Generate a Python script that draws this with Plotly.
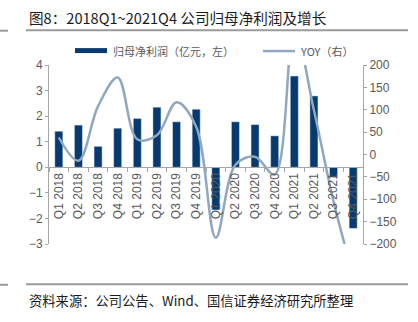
import plotly.graph_objects as go

categories = ["Q1 2018", "Q2 2018", "Q3 2018", "Q4 2018",
              "Q1 2019", "Q2 2019", "Q3 2019", "Q4 2019",
              "Q1 2020", "Q2 2020", "Q3 2020", "Q4 2020",
              "Q1 2021", "Q2 2021", "Q3 2021", "Q4 2021"]
profit = [1.41, 1.65, 0.82, 1.53, 1.91, 2.35, 1.78, 2.27,
          -1.67, 1.78, 1.67, 1.23, 3.57, 2.79, -0.40, -2.39]
yoy = [38, -14, 108, 172, 34, 43, 117, 62,
       -186, -23, -5, -45, 280, 99, -105, -270]

left_ticks = [-3, -2, -1, 0, 1, 2, 3, 4]
right_ticks = [-200, -150, -100, -50, 0, 50, 100, 150, 200]

BAR = "#073A6E"
LINE = "#8FA8C0"
AX = "#A6A6A6"
TXT = "#595959"
NUM_FONT = "Liberation Sans, Arial, sans-serif"
CJK = "Noto Sans CJK SC"

fig = go.Figure()
fig.add_trace(go.Bar(x=categories, y=profit, marker_color=BAR, width=0.41,
                     name="归母净利润（亿元，左）", yaxis="y", showlegend=False))
fig.add_trace(go.Scatter(x=categories, y=yoy, mode="lines",
                         line=dict(color=LINE, width=2.5, shape="spline"),
                         name="YOY（右）", yaxis="y2", showlegend=False))

ymin, ymax = left_ticks[0], left_ticks[-1]
fig.update_layout(
    width=418, height=322,
    margin=dict(l=49, r=55, t=64.5, b=77.5),
    paper_bgcolor="white", plot_bgcolor="white",
    showlegend=False,
    xaxis=dict(type="category", range=[-0.5, len(categories) - 0.5],
               anchor="free", position=(0 - ymin) / (ymax - ymin),
               showline=True, linecolor=AX, linewidth=1,
               ticks="outside", ticklen=4, tickcolor=AX, tickson="boundaries",
               tickangle=-90, tickfont=dict(family=NUM_FONT, size=12, color=TXT),
               showgrid=False, zeroline=False),
    yaxis=dict(range=[ymin, ymax], tickvals=left_ticks,
               showline=True, linecolor=AX, linewidth=1,
               ticks="outside", ticklen=3, tickcolor=AX,
               tickfont=dict(family=NUM_FONT, size=12, color=TXT),
               showgrid=False, zeroline=False),
    yaxis2=dict(range=[right_ticks[0], right_ticks[-1]], tickvals=right_ticks,
                ticksuffix="%", overlaying="y", side="right", anchor="x",
                showline=True, linecolor=AX, linewidth=1,
                ticks="outside", ticklen=3, tickcolor=AX,
                tickfont=dict(family=NUM_FONT, size=12, color=TXT),
                showgrid=False, zeroline=False),
)


def px_x(px):
    return (px - 49) / 314


def px_y(py):
    return (244.5 - py) / 180


# Title & source
fig.add_annotation(xref="paper", yref="paper", x=px_x(27), y=px_y(17),
                   xanchor="left", yanchor="middle", showarrow=False,
                   text="图8：2018Q1~2021Q4 公司归母净利润及增长",
                   font=dict(family=CJK, size=14.6, color="#1a1a1a"))
fig.add_annotation(xref="paper", yref="paper", x=px_x(27), y=px_y(301),
                   xanchor="left", yanchor="middle", showarrow=False,
                   text="资料来源：公司公告、Wind、国信证券经济研究所整理",
                   font=dict(family=CJK, size=13.3, color="#1a1a1a"))

for yy in (29.5, 285):
    fig.add_shape(type="line", xref="paper", yref="paper",
                  x0=px_x(26), x1=px_x(408), y0=px_y(yy), y1=px_y(yy),
                  line=dict(color="#9A9A9A", width=2))
    fig.add_shape(type="line", xref="paper", yref="paper",
                  x0=px_x(0), x1=px_x(8), y0=px_y(yy + 0.5), y1=px_y(yy + 0.5),
                  line=dict(color="#9A9A9A", width=2))

# Legend
fig.add_shape(type="rect", xref="paper", yref="paper",
              x0=px_x(75), x1=px_x(107), y0=px_y(52.5), y1=px_y(47.5),
              fillcolor=BAR, line=dict(width=0))
fig.add_annotation(xref="paper", yref="paper", x=px_x(111), y=px_y(50),
                   xanchor="left", yanchor="middle", showarrow=False,
                   text="归母净利润（亿元，左）",
                   font=dict(family=CJK, size=11, color=TXT))
fig.add_shape(type="line", xref="paper", yref="paper",
              x0=px_x(263), x1=px_x(295), y0=px_y(50.5), y1=px_y(50.5),
              line=dict(color=LINE, width=2.5))
fig.add_annotation(xref="paper", yref="paper", x=px_x(298), y=px_y(50),
                   xanchor="left", yanchor="middle", showarrow=False,
                   text="YOY（右）",
                   font=dict(family=CJK, size=11, color=TXT))

fig.write_html("out.html")
